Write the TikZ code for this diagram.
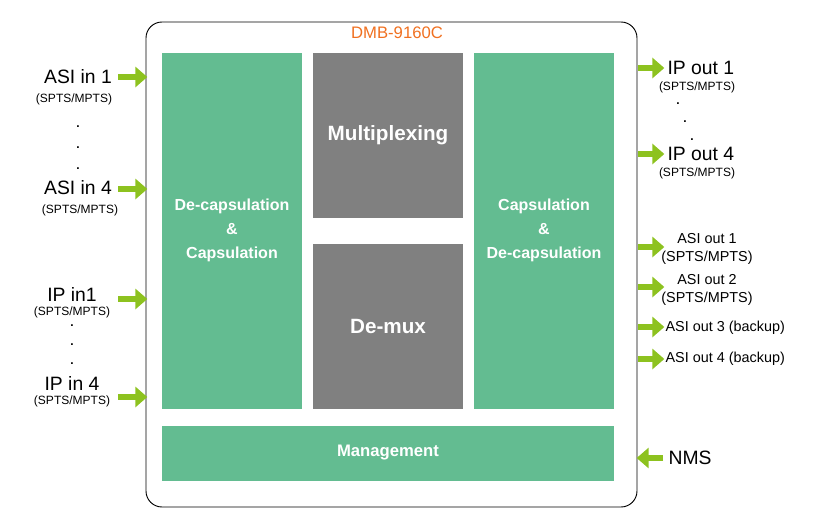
\documentclass[tikz,border=0pt]{standalone}
\usepackage{fontspec}
\setmainfont{Liberation Sans}
\usetikzlibrary{arrows.meta}
\definecolor{grn}{HTML}{63BC91}
\definecolor{gry}{HTML}{808080}
\definecolor{arr}{HTML}{8DC21F}
\definecolor{org}{HTML}{F07020}
\begin{document}
\begin{tikzpicture}[x=0.75pt,y=-0.75pt,
  blk/.style={draw=none,inner sep=0,font=\bfseries\fontsize{12}{15}\selectfont,text=white,align=center},
  big/.style={font=\bfseries\fontsize{15.5}{18}\selectfont},
  lab/.style={font=\fontsize{14.5}{17}\selectfont,inner sep=1pt,align=center},
  rlab/.style={font=\fontsize{10.8}{13}\selectfont,inner sep=1pt,align=center},
  sub/.style={font=\fontsize{9}{11}\selectfont,inner sep=1pt},
  fat/.style={draw=arr,line width=4.5pt,-{Triangle[width=15pt,length=9pt]},shorten >=-1pt}]
\useasboundingbox (0,0) rectangle (822,525);
\draw[rounded corners=12, line width=0.7pt] (146,22) rectangle (637,507);
\node[text=org,font=\fontsize{12.5}{15}\selectfont] (title) at (397,33) {DMB-9160C};
\fill[grn] (162,53) rectangle (302,409);
\fill[gry] (313,53) rectangle (463,218);
\fill[gry] (313,244) rectangle (463,409);
\fill[grn] (474,53) rectangle (614,409);
\fill[grn] (162,426) rectangle (614,481);
\node[blk] (dec) at (232,230) {De-capsulation\\[3pt]\&\\[3pt]Capsulation};
\node[blk,big] (mux) at (388,135) {Multiplexing};
\node[blk,big] (dmx) at (388,326) {De-mux};
\node[blk] (cap) at (544,230) {Capsulation\\[3pt]\&\\[3pt]De-capsulation};
\node[blk,font=\bfseries\fontsize{12.5}{15}\selectfont] (mgt) at (388,453) {Management};
% left inputs
\node[lab] (a) at (78,77) {ASI in 1};
\node[lab] (b) at (78,188) {ASI in 4};
\node[lab] (c) at (72,294) {IP in1};
\node[lab] (d) at (72,383) {IP in 4};
\node[sub] (as1) at (74,99) {(SPTS/MPTS)};
\node[sub] (as4) at (80,210) {(SPTS/MPTS)};
\node[sub] (ip1) at (72,312) {(SPTS/MPTS)};
\node[sub] (ip4) at (72,401) {(SPTS/MPTS)};
\foreach \y [count=\i] in {127,148,169}{\node[font=\bfseries\small,inner sep=0] (dl\i) at (78,\y) {.};}
\foreach \y [count=\i] in {326,345,364}{\node[font=\bfseries\small,inner sep=0] (dm\i) at (72,\y) {.};}
\foreach \y [count=\i] in {77,189,299,397}{
  \coordinate (ls\i) at (118,\y); \coordinate (le\i) at (146,\y);
  \draw[fat] (ls\i) -- (le\i);}
% right outputs
\foreach \y [count=\i] in {68,154,247,287,327,359}{
  \coordinate (rs\i) at (638,\y); \coordinate (re\i) at (663,\y);
  \draw[fat] (rs\i) -- (re\i);}
\node[lab,anchor=west] (o1) at (666,68) {IP out 1};
\node[sub] (o1s) at (697,87) {(SPTS/MPTS)};
\node[lab,anchor=west] (o4) at (666,154) {IP out 4};
\node[sub] (o4s) at (697,173) {(SPTS/MPTS)};
\foreach \x/\y [count=\i] in {678/104,685/122,692/140}{\node[font=\bfseries\small,inner sep=0] (dr\i) at (\x,\y) {.};}
\node[rlab] (a1) at (707,249) {ASI out 1\\(SPTS/MPTS)};
\node[rlab] (a2) at (707,290) {ASI out 2\\(SPTS/MPTS)};
\node[rlab,anchor=west] (a3) at (664,328) {ASI out 3 (backup)};
\node[rlab,anchor=west] (a4) at (664,359) {ASI out 4 (backup)};
% NMS
\coordinate (ns) at (663,458); \coordinate (ne) at (638,458);
\draw[fat] (ns) -- (ne);
\node[lab,anchor=west] (nms) at (667,458) {NMS};
\end{tikzpicture}
\end{document}
